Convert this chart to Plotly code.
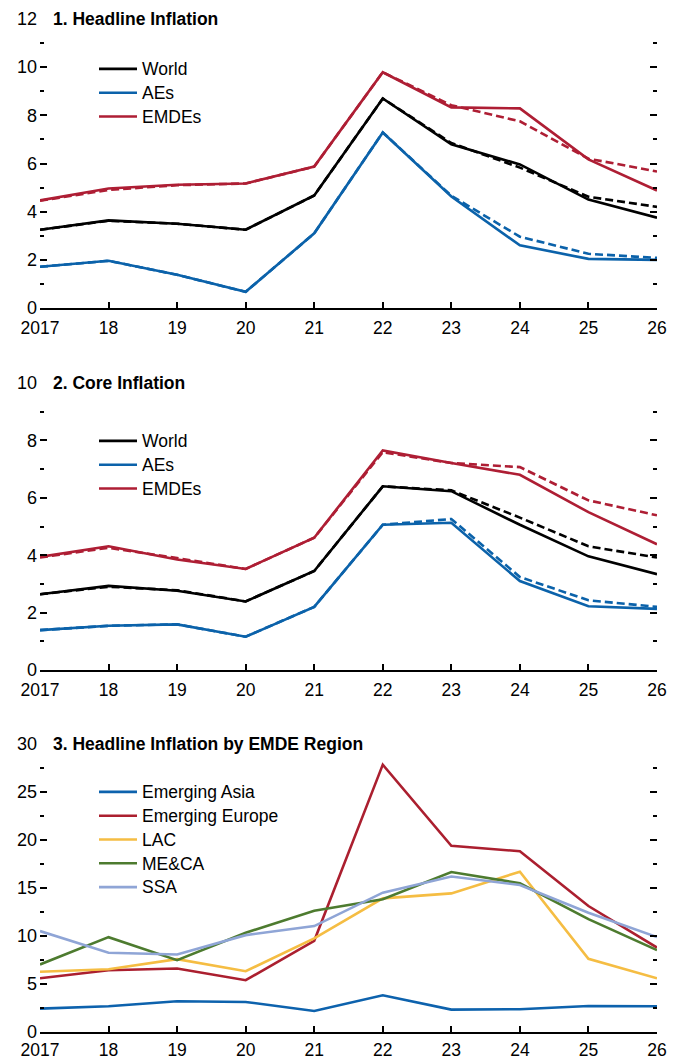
import plotly.graph_objects as go

years = [2017, 2018, 2019, 2020, 2021, 2022, 2023, 2024, 2025, 2026]
year_labels = ["2017", "18", "19", "20", "21", "22", "23", "24", "25", "26"]

# Panel 1: Headline inflation (solid = current, dashed = previous forecast)
head_world = [3.25, 3.64, 3.50, 3.25, 4.67, 8.70, 6.80, 5.96, 4.50, 3.75]
head_world_prev = [3.25, 3.62, 3.50, 3.25, 4.67, 8.70, 6.85, 5.83, 4.62, 4.20]
head_aes = [1.71, 1.96, 1.38, 0.67, 3.10, 7.29, 4.63, 2.60, 2.04, 2.00]
head_aes_prev = [1.71, 1.96, 1.38, 0.67, 3.10, 7.29, 4.66, 2.96, 2.25, 2.08]
head_emdes = [4.47, 4.96, 5.12, 5.17, 5.87, 9.79, 8.33, 8.29, 6.17, 4.88]
head_emdes_prev = [4.45, 4.90, 5.10, 5.17, 5.87, 9.79, 8.42, 7.75, 6.20, 5.67]

# Panel 2: Core inflation
core_world = [2.64, 2.93, 2.76, 2.39, 3.45, 6.40, 6.23, 5.06, 3.96, 3.34]
core_world_prev = [2.64, 2.90, 2.78, 2.39, 3.45, 6.40, 6.26, 5.31, 4.31, 3.92]
core_aes = [1.39, 1.54, 1.59, 1.16, 2.20, 5.06, 5.13, 3.10, 2.22, 2.13]
core_aes_prev = [1.39, 1.54, 1.59, 1.16, 2.20, 5.06, 5.26, 3.24, 2.43, 2.20]
core_emdes = [3.94, 4.31, 3.85, 3.52, 4.61, 7.65, 7.21, 6.80, 5.50, 4.38]
core_emdes_prev = [3.92, 4.26, 3.90, 3.52, 4.61, 7.59, 7.21, 7.07, 5.91, 5.39]

# Panel 3: Headline inflation by EMDE region
reg_asia = [2.44, 2.68, 3.20, 3.13, 2.19, 3.83, 2.33, 2.37, 2.71, 2.68]
reg_europe = [5.60, 6.44, 6.61, 5.40, 9.50, 27.85, 19.39, 18.83, 13.12, 8.80]
reg_lac = [6.27, 6.54, 7.59, 6.33, 9.75, 13.92, 14.44, 16.70, 7.62, 5.60]
reg_meca = [7.03, 9.88, 7.48, 10.34, 12.63, 13.82, 16.67, 15.49, 11.76, 8.53]
reg_ssa = [10.51, 8.25, 8.08, 10.09, 11.03, 14.51, 16.19, 15.32, 12.43, 9.89]

titles = ["1. Headline Inflation", "2. Core Inflation", "3. Headline Inflation by EMDE Region"]

FONT = "Liberation Sans, Arial, sans-serif"
BLACK = "#000000"
BLUE = "#0b62aa"
RED = "#ae1e34"
C_ASIA = "#0d62ad"
C_EUR = "#ab1f2f"
C_LAC = "#f5bd43"
C_MECA = "#4d7b2f"
C_SSA = "#8fa5d6"

LW = 2.6
DASH = "8px,4px"

fig = go.Figure()


def lbl(name):
    return '<span style="font-size:17.5px">' + name + "</span>"


def add_line(y, color, xa, ya, legend, name=None, dash=None):
    fig.add_trace(go.Scatter(
        x=years, y=y, mode="lines",
        line=dict(color=color, width=LW, dash=dash or "solid"),
        name=lbl(name) if name else "",
        showlegend=name is not None,
        legend=legend, xaxis=xa, yaxis=ya, hoverinfo="skip",
    ))


# panel 1
add_line(head_world_prev, BLACK, "x", "y", "legend", dash=DASH)
add_line(head_aes_prev, BLUE, "x", "y", "legend", dash=DASH)
add_line(head_emdes_prev, RED, "x", "y", "legend", dash=DASH)
add_line(head_world, BLACK, "x", "y", "legend", "World")
add_line(head_aes, BLUE, "x", "y", "legend", "AEs")
add_line(head_emdes, RED, "x", "y", "legend", "EMDEs")
# panel 2
add_line(core_world_prev, BLACK, "x2", "y2", "legend2", dash=DASH)
add_line(core_aes_prev, BLUE, "x2", "y2", "legend2", dash=DASH)
add_line(core_emdes_prev, RED, "x2", "y2", "legend2", dash=DASH)
add_line(core_world, BLACK, "x2", "y2", "legend2", "World")
add_line(core_aes, BLUE, "x2", "y2", "legend2", "AEs")
add_line(core_emdes, RED, "x2", "y2", "legend2", "EMDEs")
# panel 3
add_line(reg_asia, C_ASIA, "x3", "y3", "legend3", "Emerging Asia")
add_line(reg_europe, C_EUR, "x3", "y3", "legend3", "Emerging Europe")
add_line(reg_lac, C_LAC, "x3", "y3", "legend3", "LAC")
add_line(reg_meca, C_MECA, "x3", "y3", "legend3", "ME&CA")
add_line(reg_ssa, C_SSA, "x3", "y3", "legend3", "SSA")

# body margin is removed by a post script, so figure pixels = window pixels
W, H = 681, 1059
PL, PR, PT, PB = 40, 657, 19, 1032  # plot area in window pixels
ML, MT = PL, PT
MR = W - PR
MB = H - PB
PW = PR - PL
PH = PB - PT


def dom(top_px, bot_px):
    return [1 - (bot_px - PT) / PH, 1 - (top_px - PT) / PH]


def px_x(px):
    return (px - PL) / PW


def px_y(py):
    return 1 - (py - PT) / PH


domains = [dom(19, 308), dom(383, 670), dom(744, 1032)]
ranges = [[0, 12], [0, 10], [0, 30]]
dticks = [2, 2, 5]
standoffs = [3, 3, 1]

layout = dict(
    width=W, height=H,
    margin=dict(l=ML, r=MR, t=MT, b=MB, autoexpand=False),
    paper_bgcolor="white", plot_bgcolor="white",
    font=dict(family=FONT, color=BLACK, size=17),
)

for i in range(3):
    s = "" if i == 0 else str(i + 1)
    layout["xaxis" + s] = dict(
        domain=[0, 1], anchor="y" + s, range=[2017, 2026],
        tickmode="array", tickvals=years, ticktext=year_labels,
        ticks="inside", ticklen=6, tickwidth=1.5, tickcolor=BLACK,
        showline=True, linewidth=1.5, linecolor=BLACK, tickangle=0,
        showgrid=False, zeroline=False, tickfont=dict(size=17.5, family=FONT),
        ticklabelstandoff=standoffs[i],
    )
    layout["yaxis" + s] = dict(
        domain=domains[i], anchor="x" + s, range=ranges[i],
        dtick=dticks[i], tick0=0,
        ticks="inside", ticklen=7, tickwidth=1.5, tickcolor=BLACK,
        mirror="ticks", showline=False, showgrid=False, zeroline=False,
        tickfont=dict(size=18, family=FONT), ticklabelstandoff=2,
        minor=dict(dtick=dticks[i] / 2, tick0=0, ticks="inside", ticklen=4,
                   tickwidth=1.5, tickcolor=BLACK, showgrid=False),
    )

leg_common = dict(
    xref="paper", yref="paper", xanchor="left", yanchor="top",
    bgcolor="rgba(0,0,0,0)", borderwidth=0,
    font=dict(family=FONT, size=16, color=BLACK), itemwidth=38,
    tracegroupgap=0,
)
layout["legend"] = dict(leg_common, x=px_x(94), y=px_y(52))
layout["legend2"] = dict(leg_common, x=px_x(94), y=px_y(424))
layout["legend3"] = dict(leg_common, x=px_x(94), y=px_y(775))
layout["showlegend"] = True

fig.update_layout(**layout)

for i in range(3):
    s = "" if i == 0 else str(i + 1)
    fig.add_annotation(
        text="<b>" + titles[i] + "</b>", showarrow=False,
        xref="x" + s + " domain", yref="y" + s + " domain",
        x=11 / PW, y=1, xanchor="left", yanchor="middle",
        font=dict(family=FONT, size=17.5, color=BLACK),
    )

fig.write_html(
    "out.html",
    config={"displayModeBar": False},
    post_script="document.body.style.margin='0';document.body.style.overflow='hidden';",
)
